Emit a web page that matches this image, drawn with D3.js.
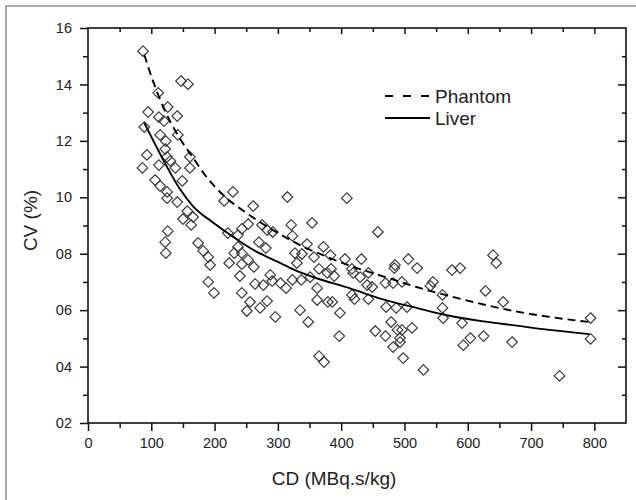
<!DOCTYPE html>
<html>
<head>
<meta charset="utf-8">
<script src="https://cdn.jsdelivr.net/npm/d3@7"></script>
<style>
  html, body { margin: 0; padding: 0; background: #fff; }
  svg { display: block; }
  text { font-family: "Liberation Sans", Arial, sans-serif; fill: #222; }
</style>
</head>
<body>
<svg id="chart" width="636" height="500"></svg>
<script>
// ---- Data ----
const cdValues = [87,147,158,111,126,95,112,120,141,89,114,142,123,122,93,125,161,86,112,130,138,161,106,149,114,125,125,141,157,166,150,163,126,122,123,174,182,
  229,215,261,315,253,243,275,321,354,221,237,283,292,323,270,281,346,372,190,193,231,243,237,327,338,357,223,243,253,262,330,365,378,240,288,264,277,291,304,313,323,337,351,362,190,199,243,256,283,272,251,296,335,348,362,379,
  383,406,432,506,520,485,484,384,389,417,419,430,443,441,449,470,482,496,545,541,575,588,560,417,409,458,386,421,443,471,487,504,560,561,591,398,397,454,470,479,489,496,512,493,493,482,498,530,365,373,593,
  640,645,628,656,794,794,604,625,670,745];
const cvValues = [15.18,14.12,14.01,13.70,13.20,13.02,12.84,12.70,12.88,12.49,12.21,12.21,11.99,11.71,11.50,11.43,11.43,11.04,11.14,11.29,11.04,11.04,10.61,10.58,10.40,10.19,9.97,9.83,9.51,9.30,9.23,9.02,8.80,8.41,8.02,8.38,8.10,
  10.19,9.87,9.69,10.01,9.05,8.88,9.02,9.02,9.09,8.73,8.66,8.84,8.77,8.63,8.41,8.20,8.34,8.24,7.88,7.60,8.02,8.02,8.24,8.02,7.99,7.88,7.67,7.63,7.78,7.53,7.67,7.46,7.32,7.21,7.25,6.93,6.89,7.03,6.96,6.78,7.07,7.07,7.17,6.78,7.00,6.61,6.61,6.29,6.32,6.08,5.97,5.76,6.00,5.58,6.36,6.29,
  7.95,7.81,7.81,7.81,7.49,7.60,7.49,7.46,7.21,7.46,7.32,7.17,7.32,6.89,6.82,6.96,6.96,7.00,7.00,6.86,7.42,7.49,6.54,6.54,9.97,8.77,6.29,6.39,6.39,6.11,6.08,6.11,6.08,5.72,5.54,5.90,5.08,5.26,5.08,5.58,5.30,5.30,5.37,5.01,4.87,4.69,4.30,3.88,4.37,4.16,4.76,
  7.95,7.67,6.68,6.29,5.72,4.98,5.01,5.08,4.87,3.67];

const phantomCD = [89,103,119,142,166,188,215,250,295,340,380,413,466,519,571,625,677,729,792];
const phantomCV = [15.05,14.1,13.2,12.2,11.4,10.7,10.05,9.45,8.8,8.25,7.87,7.58,7.2,6.82,6.5,6.2,5.95,5.76,5.58];
const liverCD = [89,109,125,145,166,198,229,260,300,327,360,413,466,519,571,625,677,729,792];
const liverCV = [12.63,11.75,11.07,10.3,9.68,9.1,8.6,8.15,7.71,7.42,7.14,6.78,6.38,6.08,5.8,5.6,5.45,5.3,5.15];

const seriesNames = ["Phantom", "Liver"];
const xMajorTicks = [0,100,200,300,400,500,600,700,800];
const xMinorTicks = [50,150,250,350,450,550,650,750];
const yMajorTicks = [2,4,6,8,10,12,14,16];
const yMinorTicks = [3,5,7,9,11,13,15];
const xTitle = "CD (MBq.s/kg)";
const yTitle = "CV (%)";

// ---- Drawing ----
const svg = d3.select("#chart");
const L = 88, R = 626, T = 28, B = 423;

// outer frame
svg.append("rect").attr("x", 6).attr("y", 6).attr("width", 640).attr("height", 500)
  .attr("fill", "none").attr("stroke", "#a8a8a8").attr("stroke-width", 2);

const x = d3.scaleLinear().domain([0, 850]).range([L, R]);
const y = d3.scaleLinear().domain([2, 16]).range([B, T]);

const fmtY = d3.format("02d");
const tickFont = "14.5px";

function styleAxis(g) {
  g.select(".domain").remove();
  g.selectAll(".tick line").attr("stroke", "#111").attr("stroke-width", 1.5);
  g.selectAll(".tick text").style("font-size", tickFont).attr("fill", "#222")
    .style("font-family", '"Liberation Sans", Arial, sans-serif');
}

// bottom
svg.append("g").attr("transform", `translate(0,${B})`)
  .call(d3.axisBottom(x).tickValues(xMajorTicks).tickSize(8).tickPadding(7).tickFormat(d3.format("d")))
  .call(styleAxis);
svg.append("g").attr("transform", `translate(0,${B})`)
  .call(d3.axisBottom(x).tickValues(xMinorTicks).tickSize(5).tickFormat(""))
  .call(styleAxis);
// top (inward)
svg.append("g").attr("transform", `translate(0,${T})`)
  .call(d3.axisTop(x).tickValues(xMajorTicks.filter(d => d > 0)).tickSize(-6).tickFormat(""))
  .call(styleAxis);
svg.append("g").attr("transform", `translate(0,${T})`)
  .call(d3.axisTop(x).tickValues(xMinorTicks).tickSize(-4).tickFormat(""))
  .call(styleAxis);
// left
svg.append("g").attr("transform", `translate(${L},0)`)
  .call(d3.axisLeft(y).tickValues(yMajorTicks).tickSize(8).tickPadding(8).tickFormat(fmtY))
  .call(styleAxis);
svg.append("g").attr("transform", `translate(${L},0)`)
  .call(d3.axisLeft(y).tickValues(yMinorTicks).tickSize(5).tickFormat(""))
  .call(styleAxis);
// right (inward)
svg.append("g").attr("transform", `translate(${R},0)`)
  .call(d3.axisRight(y).tickValues(yMajorTicks.filter(d => d > 2 && d < 16)).tickSize(-8).tickFormat(""))
  .call(styleAxis);
svg.append("g").attr("transform", `translate(${R},0)`)
  .call(d3.axisRight(y).tickValues(yMinorTicks).tickSize(-4).tickFormat(""))
  .call(styleAxis);

// plot frame
svg.append("rect").attr("x", L).attr("y", T).attr("width", R - L).attr("height", B - T)
  .attr("fill", "none").attr("stroke", "#111").attr("stroke-width", 1.6);

// scatter diamonds
const diamond = "M0,-5.3L5.3,0L0,5.3L-5.3,0Z";
svg.append("g").selectAll("path").data(d3.range(cdValues.length)).join("path")
  .attr("d", diamond)
  .attr("transform", i => `translate(${x(cdValues[i])},${y(cvValues[i])})`)
  .attr("fill", "none").attr("stroke", "#3a3a3a").attr("stroke-width", 1.2);

// fitted curves
const line = d3.line().x(d => x(d[0])).y(d => y(d[1])).curve(d3.curveMonotoneX);
const phantomPts = phantomCD.map((d, i) => [d, phantomCV[i]]);
const liverPts = liverCD.map((d, i) => [d, liverCV[i]]);
const styles = { Phantom: "8,5", Liver: null };

svg.append("path").datum(phantomPts).attr("d", line)
  .attr("fill", "none").attr("stroke", "#000").attr("stroke-width", 1.9)
  .attr("stroke-dasharray", styles.Phantom);
svg.append("path").datum(liverPts).attr("d", line)
  .attr("fill", "none").attr("stroke", "#000").attr("stroke-width", 1.9);

// legend
const leg = svg.append("g");
seriesNames.forEach((name, i) => {
  const yy = 96 + i * 22;
  leg.append("line").attr("x1", 385).attr("x2", 430).attr("y1", yy).attr("y2", yy)
    .attr("stroke", "#000").attr("stroke-width", 2)
    .attr("stroke-dasharray", styles[name] ? "8,10" : null);
  leg.append("text").attr("x", 435).attr("y", yy + 6.5)
    .style("font-size", "19px").text(name);
});

// axis titles
svg.append("text").attr("x", (L + R) / 2 - 23).attr("y", 485)
  .attr("text-anchor", "middle").style("font-size", "19px").text(xTitle);
svg.append("text").attr("transform", `translate(37,${(T + B) / 2 - 5}) rotate(-90)`)
  .attr("text-anchor", "middle").style("font-size", "19px").text(yTitle);
</script>
</body>
</html>
